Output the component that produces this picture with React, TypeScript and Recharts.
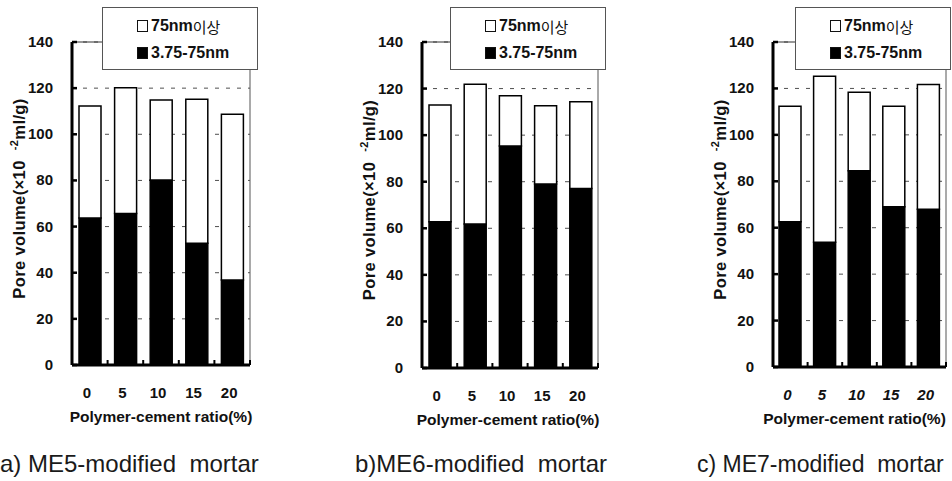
import React from 'react';
import { BarChart, Bar, XAxis, YAxis, CartesianGrid, ReferenceLine, Legend } from 'recharts';

// ---- data ----
const ratios = ['0', '5', '10', '15', '20'];
const me5Mid = [63.7, 65.7, 80.2, 52.8, 36.8];
const me5Large = [48.6, 54.5, 34.7, 62.4, 71.9];
const me6Mid = [62.8, 61.8, 95.3, 79.0, 77.1];
const me6Large = [50.1, 60.1, 21.6, 33.6, 37.2];
const me7Mid = [62.6, 53.7, 84.5, 69.0, 68.0];
const me7Large = [49.7, 71.6, 33.9, 43.3, 53.7];
const yTicks = [0, 20, 40, 60, 80, 100, 120, 140];
const legendLargeNum = '75nm';
const legendLargeKo = '이상';
const legendMid = '3.75-75nm';
const captions = ['a) ME5-modified  mortar', 'b)ME6-modified  mortar', 'c) ME7-modified  mortar'];
const xTitle = 'Polymer-cement ratio(%)';
const yTitleMain = 'Pore volume(×10\u00a0\u00a0';
const yTitleSup = '-2';
const yTitleUnit = 'ml/g)';

const FONT = '"Liberation Sans", Arial, Helvetica, sans-serif';

const build = (mid: number[], large: number[]) =>
  ratios.map((r, i) => ({ ratio: r, mid: mid[i], large: large[i] }));

const panels = [
  { data: build(me5Mid, me5Large), left: 0, width: 320, plotLeft: 72, plotRight: 250, bottom: 365, legendLeft: 102, captionLeft: 0, captionSize: 24, titleDx: 0, italic: false },
  { data: build(me6Mid, me6Large), left: 320, width: 320, plotLeft: 102, plotRight: 278, bottom: 368, legendLeft: 130, captionLeft: 35, captionSize: 24, titleDx: -2, italic: false },
  { data: build(me7Mid, me7Large), left: 640, width: 312, plotLeft: 133, plotRight: 306, bottom: 367, legendLeft: 155, captionLeft: 57, captionSize: 23, titleDx: -5, italic: true },
];

const YTick = (props: any) => {
  const { x, y, payload } = props;
  return (
    <g>
      <line x1={x} x2={x + 5} y1={y} y2={y} stroke="#000" strokeWidth={2.5} />
      <text x={x - 19} y={y} dy={5} textAnchor="end" fontSize={15} fontWeight="bold" fontFamily={FONT} fill="#111">
        {payload.value}
      </text>
    </g>
  );
};

const XTick = (props: any) => {
  const { x, y, payload, italic, band } = props;
  return (
    <g>
      <line x1={x + band / 2} x2={x + band / 2} y1={y} y2={y - 5} stroke="#000" strokeWidth={2} />
      <text x={x - 3} y={y + 33} textAnchor="middle" fontSize={15} fontWeight="bold" fontStyle={italic ? 'italic' : 'normal'} fontFamily={FONT} fill="#111">
        {payload.value}
      </text>
    </g>
  );
};

const YLabel = (props: any) => {
  const vb = props.viewBox || {};
  const cx = vb.x + (vb.width || 0) - 53;
  const cy = vb.y + vb.height / 2 - 5;
  return (
    <text transform={`rotate(-90, ${cx}, ${cy})`} x={cx} y={cy} dy={6} textAnchor="middle" fontSize={16.5} fontWeight="bold" fontFamily={FONT} fill="#111" letterSpacing={0.4}>
      {yTitleMain}
      <tspan dy={-7} fontSize={11}>{yTitleSup}</tspan>
      <tspan dy={7}>{yTitleUnit}</tspan>
    </text>
  );
};

const XLabel = (props: any) => {
  const vb = props.viewBox || {};
  const dx = props.titleDx || 0;
  return (
    <text x={vb.x + vb.width / 2 + dx} y={vb.y + 57} textAnchor="middle" fontSize={15.5} fontWeight="bold" fontFamily={FONT} fill="#111">
      {xTitle}
    </text>
  );
};

const LegendBox = () => (
  <div style={{ position: 'relative', width: '100%', height: '100%', boxSizing: 'border-box', border: '1px solid #555', background: '#fff', fontFamily: FONT, fontWeight: 'bold', fontSize: 16, color: '#111' }}>
    <div style={{ position: 'absolute', left: 34, top: 8, height: 20, display: 'flex', alignItems: 'center' }}>
      <span style={{ display: 'inline-block', width: 9, height: 10, border: '1.5px solid #111', background: '#fff', marginRight: 3 }} />
      <span>{legendLargeNum}</span>
      <span style={{ fontWeight: 'normal', fontFamily: '"Noto Sans CJK KR", sans-serif', fontSize: 15 }}>{legendLargeKo}</span>
    </div>
    <div style={{ position: 'absolute', left: 34, top: 35, height: 20, display: 'flex', alignItems: 'center' }}>
      <span style={{ display: 'inline-block', width: 9, height: 10, border: '1.5px solid #111', background: '#000', marginRight: 3 }} />
      <span>{legendMid}</span>
    </div>
  </div>
);

const Panel = ({ p, idx }: { p: any; idx: number }) => {
  const band = (p.plotRight - p.plotLeft) / ratios.length;
  return (
    <div style={{ position: 'absolute', left: p.left, top: 0, width: p.width, height: 481 }}>
      <BarChart
        width={p.width}
        height={481}
        data={p.data}
        margin={{ top: 42, bottom: 481 - p.bottom - 1, left: p.plotLeft - 1, right: p.width - p.plotRight - 1 }}
        barSize={22}
      >
        <CartesianGrid vertical={false} stroke="#222" strokeDasharray="4 7" strokeWidth={0.8} />
        <XAxis
          dataKey="ratio"
          height={1}
          tickSize={0}
          tickMargin={0}
          tickLine={false}
          axisLine={{ stroke: '#000', strokeWidth: 3 }}
          tick={(tp: any) => <XTick {...tp} italic={p.italic} band={band} />}
          interval={0}
          label={{ content: (lp: any) => <XLabel {...lp} titleDx={p.titleDx} /> }}
        />
        <YAxis
          domain={[0, 140]}
          ticks={yTicks}
          width={1}
          tickSize={0}
          tickMargin={0}
          tickLine={false}
          axisLine={{ stroke: '#000', strokeWidth: 3 }}
          tick={(tp: any) => <YTick {...tp} />}
          interval={0}
          label={{ content: (lp: any) => <YLabel {...lp} /> }}
        />
        <YAxis
          yAxisId="r"
          orientation="right"
          domain={[0, 140]}
          width={1}
          tick={false}
          tickLine={false}
          axisLine={{ stroke: '#555', strokeWidth: 1 }}
        />
        <ReferenceLine y={140} stroke="#333" strokeWidth={1.2} />
        <Bar dataKey="mid" stackId="s" name={legendMid} fill="#000" stroke="#000" strokeWidth={1.5} isAnimationActive={false} />
        <Bar dataKey="large" stackId="s" name={legendLargeNum + legendLargeKo} fill="#fff" stroke="#000" strokeWidth={1.5} isAnimationActive={false} />
        <Legend
          layout="vertical"
          align="center"
          verticalAlign="middle"
          content={() => <LegendBox />}
          wrapperStyle={{ position: 'absolute', left: p.legendLeft, top: 7, width: 156, height: 63 }}
        />
      </BarChart>
      <div style={{ position: 'absolute', left: p.captionLeft, top: 451, whiteSpace: 'pre', fontFamily: FONT, fontSize: p.captionSize, lineHeight: '26px', color: '#1a1a1a' }}>
        {captions[idx]}
      </div>
    </div>
  );
};

export default function App() {
  return (
    <div style={{ position: 'absolute', left: 0, top: 0, width: 952, height: 481, overflow: 'hidden', background: '#fff' }}>
      {panels.map((p, i) => (
        <Panel key={i} p={p} idx={i} />
      ))}
    </div>
  );
}
